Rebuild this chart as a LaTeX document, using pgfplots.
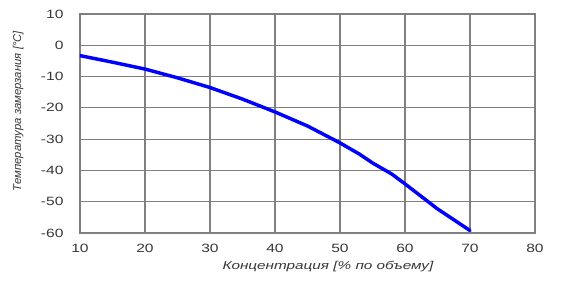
\documentclass[border=0pt]{standalone}
\usepackage{fontspec}
\setmainfont{Liberation Sans}
\setsansfont{Liberation Sans}
\usepackage{pgfplots}
\pgfplotsset{compat=1.18}
\definecolor{gridgray}{RGB}{128,128,128}
\definecolor{txtgray}{RGB}{55,55,55}
\begin{document}
\begin{tikzpicture}
\path[use as bounding box] (-60pt,-36.75pt) rectangle (379.5pt,174.75pt);
\begin{axis}[
  at={(0,0)}, anchor=south west,
  scale only axis,
  width=341.25pt, height=164.25pt,
  xmin=10, xmax=80, ymin=-60, ymax=10,
  xtick={10,20,...,80}, ytick={-60,-50,...,10},
  grid=major,
  major grid style={draw=gridgray, line width=0.95pt},
  axis line style={draw=gridgray, line width=0.95pt},
  major tick length=0pt,
  /pgf/number format/assume math mode=true,
  tick label style={font=\fontsize{9pt}{10pt}\selectfont, text=txtgray, xscale=1.3},
  xticklabel style={yshift=-4.6pt},
  yticklabel style={xshift=-6pt},
  label style={font=\fontsize{8.5pt}{10pt}\selectfont\itshape, text=txtgray},
  xlabel={Концентрация [\% по объему]},
  ylabel={Температура замерзания [°C]},
  xlabel style={at={(axis description cs:0.545,-0.151)}, anchor=center, xscale=1.35},
  ylabel style={at={(axis description cs:-0.136,0.557)}, anchor=center},
]
\addplot[draw={rgb,255:red,0;green,0;blue,255}, line width=2.6pt, line join=round, line cap=round] coordinates {
(10,-3.3) (15,-5.4) (20,-7.6) (25,-10.4) (30,-13.5) (35,-17.2) (40,-21.3) (45,-25.8) (50,-31.2) (53,-34.8) (55,-37.6) (58,-41.2) (60,-44.3) (62,-47.5) (65,-52.3) (70,-59.2)
};
\end{axis}
\end{tikzpicture}
\end{document}
